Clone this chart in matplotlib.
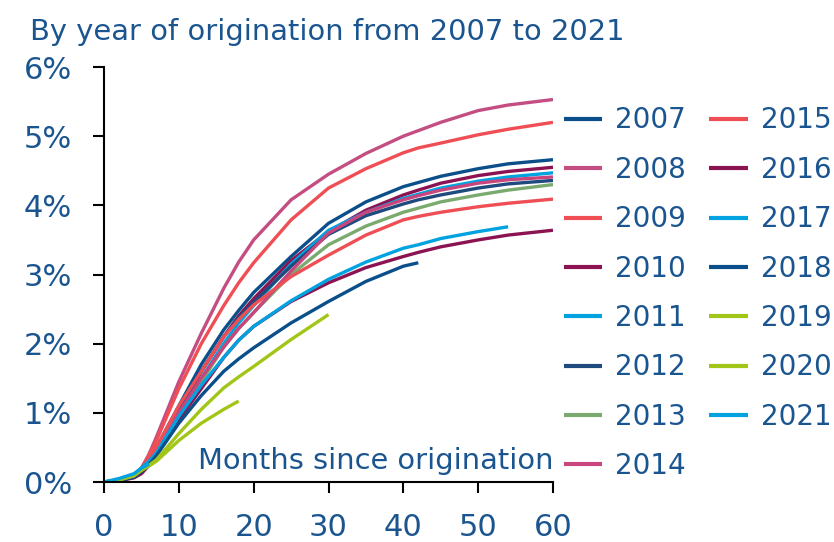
import matplotlib
matplotlib.use("Agg")
import matplotlib.pyplot as plt

# Months since origination (shared grid, shorter vintages stop early)
months = [0, 2, 4, 5, 6, 7, 10, 13, 16, 18, 20, 25, 30, 35, 40, 42, 45, 50, 54, 60]

# Cumulative default rate (%)
y2007 = [0, 0.02, 0.08, 0.18, 0.32, 0.5, 1.1, 1.7, 2.2, 2.48, 2.74, 3.26, 3.74, 4.05, 4.27, 4.33, 4.42, 4.53, 4.6, 4.66]
y2008 = [0, 0.03, 0.1, 0.2, 0.4, 0.65, 1.45, 2.15, 2.8, 3.18, 3.5, 4.08, 4.45, 4.75, 5.0, 5.08, 5.2, 5.37, 5.45, 5.53]
y2009 = [0, 0.03, 0.1, 0.2, 0.38, 0.6, 1.35, 2.0, 2.55, 2.88, 3.17, 3.79, 4.25, 4.53, 4.76, 4.83, 4.9, 5.02, 5.1, 5.2]
y2010 = [0, 0.02, 0.07, 0.15, 0.28, 0.45, 1.0, 1.6, 2.1, 2.4, 2.65, 3.2, 3.62, 3.93, 4.15, 4.22, 4.32, 4.43, 4.49, 4.55]
y2011 = [0, 0.03, 0.1, 0.2, 0.3, 0.45, 0.95, 1.5, 2.0, 2.3, 2.55, 3.15, 3.64, 3.9, 4.1, 4.16, 4.25, 4.35, 4.41, 4.47]
y2012 = [0, 0.02, 0.08, 0.17, 0.3, 0.48, 1.05, 1.6, 2.1, 2.38, 2.6, 3.12, 3.58, 3.85, 4.02, 4.08, 4.15, 4.25, 4.31, 4.36]
y2013 = [0, 0.02, 0.08, 0.17, 0.28, 0.42, 0.95, 1.45, 1.95, 2.22, 2.45, 3.0, 3.43, 3.7, 3.9, 3.96, 4.05, 4.15, 4.22, 4.3]
y2014 = [0, 0.02, 0.08, 0.17, 0.29, 0.45, 1.0, 1.5, 1.95, 2.22, 2.45, 3.05, 3.6, 3.9, 4.08, 4.14, 4.22, 4.32, 4.37, 4.41]
y2015 = [0, 0.02, 0.08, 0.17, 0.32, 0.5, 1.1, 1.6, 2.1, 2.35, 2.56, 2.97, 3.28, 3.57, 3.79, 3.84, 3.9, 3.98, 4.03, 4.09]
y2016 = [0, 0.02, 0.06, 0.12, 0.24, 0.4, 0.9, 1.35, 1.8, 2.05, 2.25, 2.61, 2.88, 3.1, 3.26, 3.32, 3.4, 3.5, 3.57, 3.64]
y2017 = [0, 0.03, 0.1, 0.2, 0.3, 0.42, 0.95, 1.4, 1.8, 2.05, 2.25, 2.62, 2.93, 3.18, 3.38, 3.43, 3.52, 3.62, 3.69]
y2018 = [0, 0.02, 0.07, 0.15, 0.25, 0.38, 0.85, 1.25, 1.6, 1.78, 1.94, 2.3, 2.61, 2.9, 3.12, 3.17]
y2019 = [0, 0.03, 0.09, 0.17, 0.24, 0.32, 0.7, 1.05, 1.36, 1.52, 1.67, 2.06, 2.42]
y2020 = [0, 0.03, 0.09, 0.17, 0.23, 0.3, 0.6, 0.85, 1.05, 1.17]
y2021 = [0, 0.05, 0.12, 0.2, 0.26]

years = ["2007", "2008", "2009", "2010", "2011", "2012", "2013", "2014",
         "2015", "2016", "2017", "2018", "2019", "2020", "2021"]
series = [y2007, y2008, y2009, y2010, y2011, y2012, y2013, y2014,
          y2015, y2016, y2017, y2018, y2019, y2020, y2021]
colors = ["#0B4F8A", "#C44E82", "#EF4E55", "#8C1352", "#00A3E0", "#1F4A7E", "#7AAA6E", "#C8457E",
          "#EF4E55", "#8C1352", "#00A3E0", "#0B4F8A", "#A2C617", "#A2C617", "#00A3E0"]

text_col = "#1B5590"
plt.rcParams['font.family'] = ['DejaVu Sans']

fig = plt.figure(figsize=(8.34, 5.42), dpi=100)
ax = fig.add_axes([104 / 834, 60 / 542, 449 / 834, 415 / 542])

for yr, vals, c in zip(years, series, colors):
    ax.plot(months[:len(vals)], vals, color=c, lw=2.4, label=yr, solid_capstyle="butt")

ax.set_xlim(0, 60)
ax.set_ylim(0, 6)
ax.set_xticks(range(0, 61, 10))
ax.set_yticks(range(0, 7))
ax.set_yticklabels([f"{v}%" for v in range(0, 7)])
for s in ["top", "right"]:
    ax.spines[s].set_visible(False)
for s in ["left", "bottom"]:
    ax.spines[s].set_linewidth(1.5)
    ax.spines[s].set_color("black")
ax.tick_params(axis="both", direction="out", length=8, width=1.5, color="black",
               labelsize=22, labelcolor=text_col)
ax.tick_params(axis="y", pad=15)
ax.tick_params(axis="x", pad=14)
ax.margins(0)

ax.text(60, 0.3, "Months since origination", ha="right", va="center",
        fontsize=20.8, color=text_col)
fig.text(30 / 834, 1 - 32 / 542, "By year of origination from 2007 to 2021",
         ha="left", va="center", fontsize=20.9, color=text_col)

leg = ax.legend(ncol=2, loc="upper left", bbox_to_anchor=(1.005, 0.925), frameon=False,
                fontsize=20, handlelength=1.4, handletextpad=0.45, columnspacing=0.85,
                labelspacing=0.77, borderaxespad=0, borderpad=0.3)
for t in leg.get_texts():
    t.set_color(text_col)
for h in leg.get_lines():
    h.set_linewidth(3)

fig.savefig("out.png", dpi=100)
